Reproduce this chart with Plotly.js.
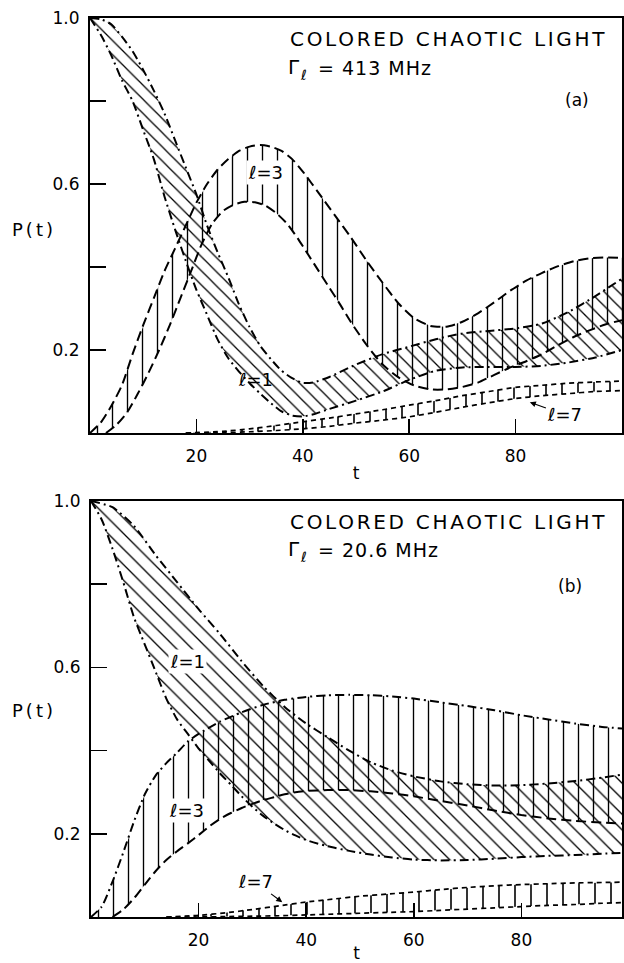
<!DOCTYPE html>
<html><head><meta charset="utf-8">
<script src="https://cdn.plot.ly/plotly-3.0.1.min.js"></script>
<style>html,body{margin:0;padding:0;background:#fff;overflow:hidden}</style>
</head><body>
<div id="chart" style="width:624px;height:963px"></div>
<script>
// ---------- Panel (a): Gamma = 413 MHz ----------
const a_l1_outer_t = [0,2,4,6,8,10,12,14,16,18,20,22,24,26,28,30,32,34,36,38,40,42,45,50,55,60,65,70,75,80,85,90,95,100];
const a_l1_outer_p = [1.0,0.997,0.985,0.955,0.92,0.875,0.825,0.77,0.705,0.64,0.575,0.5,0.435,0.375,0.31,0.255,0.21,0.178,0.15,0.132,0.121,0.122,0.135,0.165,0.19,0.208,0.226,0.24,0.246,0.252,0.264,0.292,0.33,0.372];
const a_l1_inner_t = [0,2,4,6,8,10,12,14,16,18,20,22,24,26,28,30,32,34,36,38,40,42,45,50,55,60,65,70,75,80,85,90,95,100];
const a_l1_inner_p = [1.0,0.96,0.91,0.85,0.8,0.73,0.66,0.57,0.49,0.415,0.345,0.285,0.225,0.18,0.148,0.12,0.095,0.072,0.052,0.042,0.04,0.045,0.058,0.078,0.1,0.128,0.15,0.158,0.159,0.159,0.162,0.17,0.182,0.2];

const a_l3_upper_t = [0,2,4,6,8,10,12,14,16,18,20,22,24,26,28,30,32,34,36,38,40,43,46,49,52,55,58,61,64,67,70,73,76,79,82,85,88,91,94,97,100];
const a_l3_upper_p = [0,0.025,0.065,0.115,0.19,0.26,0.325,0.39,0.445,0.5,0.555,0.6,0.635,0.66,0.68,0.69,0.694,0.69,0.68,0.66,0.63,0.578,0.525,0.472,0.415,0.362,0.312,0.276,0.258,0.256,0.268,0.289,0.315,0.343,0.367,0.386,0.402,0.414,0.421,0.423,0.422];
const a_l3_lower_t = [3,5,7,9,11,13,15,17,19,21,23,25,27,29,31,33,35,37,39,41,43,45,47,49,52,55,58,61,64,67,70,73,76,79,82,85,88,91,94,97,100];
const a_l3_lower_p = [0,0.02,0.05,0.095,0.145,0.2,0.26,0.325,0.39,0.455,0.505,0.535,0.55,0.557,0.556,0.548,0.53,0.505,0.47,0.43,0.39,0.35,0.31,0.268,0.212,0.165,0.134,0.114,0.105,0.105,0.111,0.122,0.14,0.158,0.173,0.19,0.212,0.232,0.248,0.262,0.272];

const a_l7_t = [18,25,30,35,40,45,50,55,60,65,70,75,80,85,90,95,100];
const a_l7_upper_p = [0,0.004,0.01,0.018,0.027,0.036,0.046,0.056,0.067,0.078,0.09,0.1,0.11,0.115,0.12,0.123,0.125];
const a_l7_lower_p = [0,0.001,0.003,0.006,0.01,0.016,0.024,0.031,0.039,0.05,0.062,0.073,0.083,0.09,0.095,0.1,0.102];

// ---------- Panel (b): Gamma = 20.6 MHz ----------
const b_l1_outer_t = [0,4,8,12,16,20,24,28,32,36,40,44,48,52,56,60,65,70,75,80,85,90,95,100];
const b_l1_outer_p = [1.0,0.985,0.94,0.87,0.805,0.74,0.68,0.615,0.555,0.505,0.465,0.432,0.4,0.372,0.352,0.338,0.326,0.319,0.316,0.317,0.321,0.327,0.335,0.345];
const b_l1_inner_t = [0,2,4,6,8,10,12,14,16,18,20,22,24,26,28,30,32,34,36,38,40,44,48,52,56,60,65,70,75,80,85,90,95,100];
const b_l1_inner_p = [1.0,0.955,0.885,0.805,0.72,0.655,0.59,0.525,0.475,0.44,0.405,0.375,0.345,0.318,0.29,0.265,0.243,0.225,0.209,0.196,0.185,0.17,0.159,0.15,0.143,0.138,0.136,0.137,0.14,0.144,0.147,0.149,0.152,0.155];

const b_l3_upper_t = [0,2,4,6,8,10,12,14,16,18,20,24,28,32,36,40,44,48,52,56,60,65,70,75,80,85,90,95,100];
const b_l3_upper_p = [0,0.025,0.085,0.155,0.23,0.295,0.34,0.37,0.395,0.422,0.44,0.47,0.492,0.51,0.522,0.529,0.533,0.534,0.533,0.53,0.525,0.516,0.507,0.497,0.485,0.475,0.465,0.457,0.452];
const b_l3_lower_t = [4,6,8,10,12,14,16,18,20,22,24,26,28,30,32,34,36,38,40,44,48,52,56,60,65,70,75,80,85,90,95,100];
const b_l3_lower_p = [0,0.018,0.045,0.078,0.11,0.137,0.158,0.177,0.197,0.218,0.236,0.25,0.262,0.272,0.281,0.288,0.295,0.3,0.303,0.305,0.305,0.302,0.297,0.29,0.279,0.268,0.256,0.245,0.237,0.231,0.227,0.224];

const b_l7_t = [14,20,25,30,35,40,45,50,55,60,65,70,75,80,85,90,95,100];
const b_l7_upper_p = [0,0.004,0.01,0.018,0.027,0.036,0.043,0.05,0.055,0.06,0.066,0.071,0.075,0.078,0.08,0.082,0.083,0.084];
const b_l7_lower_p = [0,0,0.001,0.002,0.003,0.005,0.007,0.009,0.011,0.013,0.016,0.019,0.022,0.025,0.028,0.03,0.033,0.035];

// ---------- Tick labels ----------
const xTickVals = [20,40,60,80];
const xTickText = ['20','40','60','80'];
const yTickVals = [0.2,0.6,1.0];
const yTickText = ['0.2','0.6','1.0'];
const yMinorVals = [0.4,0.8];

// ---------- Styles ----------
const FONT = 'DejaVu Sans, sans-serif';
const DASHDOT = '9px,4px,2px,4px';
const DASH = '10px,5px';
const SHORTDASH = '5px,4px';

function band(tU, pU, tL, pL, xa, ya, shape, size, sol) {
  return {
    type: 'scatter', mode: 'lines', xaxis: xa, yaxis: ya,
    x: tU.concat(tL.slice().reverse()),
    y: pU.concat(pL.slice().reverse()),
    fill: 'toself', fillcolor: 'rgba(0,0,0,0)',
    fillpattern: {shape: shape, size: size, solidity: sol, fgcolor: 'black', bgcolor: 'rgba(0,0,0,0)'},
    line: {width: 0, color: 'rgba(0,0,0,0)'},
    hoverinfo: 'skip', showlegend: false
  };
}
function curve(t, p, xa, ya, dash, w) {
  return {
    type: 'scatter', mode: 'lines', xaxis: xa, yaxis: ya, x: t, y: p,
    line: {color: 'black', width: w || 2, dash: dash, shape: 'spline', smoothing: 0.6},
    hoverinfo: 'skip', showlegend: false
  };
}

const traces = [
  // panel a
  band(a_l1_outer_t, a_l1_outer_p, a_l1_inner_t, a_l1_inner_p, 'x', 'y', '\\', 10, 0.13),
  band(a_l3_upper_t, a_l3_upper_p, a_l3_lower_t, a_l3_lower_p, 'x', 'y', '|', 15, 0.09),
  band(a_l7_t, a_l7_upper_p, a_l7_t, a_l7_lower_p, 'x', 'y', '|', 16, 0.1),
  curve(a_l1_outer_t, a_l1_outer_p, 'x', 'y', DASHDOT),
  curve(a_l1_inner_t, a_l1_inner_p, 'x', 'y', DASHDOT),
  curve(a_l3_upper_t, a_l3_upper_p, 'x', 'y', DASH),
  curve(a_l3_lower_t, a_l3_lower_p, 'x', 'y', DASH),
  curve(a_l7_t, a_l7_upper_p, 'x', 'y', SHORTDASH, 1.7),
  curve(a_l7_t, a_l7_lower_p, 'x', 'y', SHORTDASH, 1.7),
  // panel b
  band(b_l1_outer_t, b_l1_outer_p, b_l1_inner_t, b_l1_inner_p, 'x2', 'y2', '\\', 11, 0.12),
  band(b_l3_upper_t, b_l3_upper_p, b_l3_lower_t, b_l3_lower_p, 'x2', 'y2', '|', 15, 0.09),
  band(b_l7_t, b_l7_upper_p, b_l7_t, b_l7_lower_p, 'x2', 'y2', '|', 16, 0.1),
  curve(b_l1_outer_t, b_l1_outer_p, 'x2', 'y2', DASHDOT),
  curve(b_l1_inner_t, b_l1_inner_p, 'x2', 'y2', DASHDOT),
  curve(b_l3_upper_t, b_l3_upper_p, 'x2', 'y2', DASHDOT),
  curve(b_l3_lower_t, b_l3_lower_p, 'x2', 'y2', DASH),
  curve(b_l7_t, b_l7_upper_p, 'x2', 'y2', SHORTDASH, 1.7),
  curve(b_l7_t, b_l7_lower_p, 'x2', 'y2', SHORTDASH, 1.7)
];

const W = 624, H = 963;
const px = v => v / W, py = v => 1 - v / H;

function xax(dom, rng, anchor, standoff) {
  return {domain: dom, range: rng, anchor: anchor, showgrid: false, zeroline: false, showline: true, mirror: true,
    linecolor: 'black', linewidth: 2, ticks: 'inside', ticklen: 14, tickwidth: 1.6, tickcolor: 'black',
    tickmode: 'array', tickvals: xTickVals, ticktext: xTickText, ticklabelstandoff: 7,
    title: {text: 't', standoff: standoff, font: {family: FONT, size: 17, color: 'black'}},
    automargin: false,
    tickfont: {family: FONT, size: 17, color: 'black'}, fixedrange: true};
}
function yax(dom, anchor) {
  return {domain: dom, range: [0, 1.0], anchor: anchor, showgrid: false, zeroline: false, showline: true, mirror: true,
    linecolor: 'black', linewidth: 2, ticks: 'inside', ticklen: 16, tickwidth: 1.6, tickcolor: 'black',
    tickmode: 'array', tickvals: yTickVals, ticktext: yTickText, ticklabelstandoff: 5,
    minor: {tickmode: 'array', tickvals: yMinorVals, ticks: 'inside', ticklen: 16, tickwidth: 1.6,
            tickcolor: 'black', showgrid: false},
    tickfont: {family: FONT, size: 17, color: 'black'}, fixedrange: true};
}

function ptext(text, x, y, size, opts) {
  return Object.assign({text: text, xref: 'paper', yref: 'paper', x: px(x), y: py(y),
    xanchor: 'center', yanchor: 'middle', showarrow: false,
    font: {family: FONT, size: size, color: 'black'}}, opts || {});
}
function lab(text, x, y, xr, yr, opts) {
  return Object.assign({text: text, xref: xr, yref: yr, x: x, y: y, showarrow: false,
    xanchor: 'center', yanchor: 'middle', bgcolor: 'white', borderpad: 1,
    font: {family: FONT, size: 18, color: 'black'}}, opts || {});
}

const annotations = [
  // panel a
  ptext('COLORED CHAOTIC LIGHT', 288, 39, 20, {xanchor: 'left', align: 'left'}),
  ptext('Γ', 294, 67, 20),
  ptext('ℓ', 303, 75, 14),
  ptext('= 413 MHz', 316, 68, 19, {xanchor: 'left', align: 'left'}),
  ptext('(a)', 577, 100, 17),
  ptext('P(t)', 34, 229, 18),
  lab('ℓ=3', 33, 0.627, 'x', 'y'),
  lab('ℓ=1', 31.1, 0.128, 'x', 'y', {bgcolor: 'rgba(0,0,0,0)'}),
  lab('ℓ=7', 82.5, 0.075, 'x', 'y', {showarrow: true, ax: 36, ay: 13, arrowhead: 2, arrowsize: 1,
      arrowwidth: 1.2, arrowcolor: 'black', standoff: 1, bgcolor: 'rgba(0,0,0,0)'}),
  // panel b
  ptext('COLORED CHAOTIC LIGHT', 288, 522, 20, {xanchor: 'left', align: 'left'}),
  ptext('Γ', 294, 549, 20),
  ptext('ℓ', 303, 557, 14),
  ptext('= 20.6 MHz', 316, 550, 19, {xanchor: 'left', align: 'left'}),
  ptext('(b)', 570, 586, 17),
  ptext('P(t)', 34, 710, 18),
  lab('ℓ=1', 18, 0.613, 'x2', 'y2'),
  lab('ℓ=3', 17.7, 0.257, 'x2', 'y2'),
  lab('ℓ=7', 35.7, 0.034, 'x2', 'y2', {showarrow: true, ax: -28, ay: -21, arrowhead: 2, arrowsize: 1,
      arrowwidth: 1.2, arrowcolor: 'black', standoff: 1})
];

const layout = {
  width: W, height: H, margin: {l: 0, r: 0, t: 0, b: 0},
  paper_bgcolor: 'white', plot_bgcolor: 'white', showlegend: false,
  xaxis: xax([px(90), px(622)], [0, 100], 'y', 2),
  yaxis: yax([py(433), py(18)], 'x'),
  xaxis2: xax([px(91), px(622)], [0, 98.7], 'y2', 0),
  yaxis2: yax([py(917), py(501)], 'x2'),
  annotations: annotations
};

Plotly.newPlot('chart', traces, layout, {staticPlot: true, displayModeBar: false}).then(function () {
  document.querySelectorAll('.annotation-text').forEach(function (el) {
    const s = el.textContent;
    if (s.indexOf('COLORED') >= 0) el.style.letterSpacing = '2.7px';
    else if (s.indexOf('MHz') >= 0) el.style.letterSpacing = '1px';
    else if (s.indexOf('P(t)') >= 0) el.style.letterSpacing = '3px';
  });
});
</script>
</body></html>
